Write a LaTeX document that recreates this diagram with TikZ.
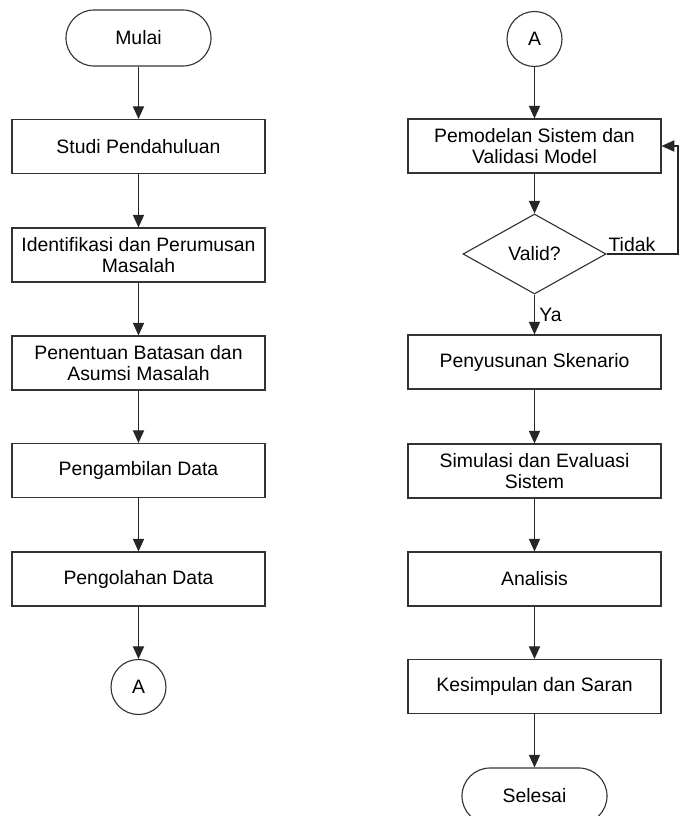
\documentclass[tikz,border=0pt]{standalone}
\usepackage{fontspec}
\setmainfont{Liberation Sans}
\usepackage{tikz}
\usetikzlibrary{arrows.meta,shapes.geometric}

\begin{document}
\begin{tikzpicture}[x=0.025cm,y=-0.025cm,
  font=\fontsize{13.8}{15.5}\selectfont,
  proses/.style={draw=black!80,line width=0.8pt,fill=white,minimum width=6.325cm,minimum height=1.35cm,align=center,inner sep=2pt},
  terminal/.style={draw=black!80,line width=0.8pt,fill=white,rounded corners=0.7cm,minimum width=3.625cm,minimum height=1.4cm},
  konektor/.style={draw=black!80,circle,line width=0.8pt,minimum size=1.375cm,inner sep=0pt},
  keputusan/.style={draw=black!80,diamond,aspect=1.79,line width=0.8pt,minimum width=3.575cm,minimum height=2cm,inner sep=0pt},
  panah/.style={-{Triangle[length=9pt,width=8pt]},line width=0.8pt,draw=black!85}]
\useasboundingbox (0,0) rectangle (680,816);
\clip (0,0) rectangle (680,816);
\node[terminal] (mulai) at (138.5,38) {Mulai};
\node[proses] (studi) at (138.5,146.5) {Studi Pendahuluan};
\node[proses] (identifikasi) at (138.5,255) {Identifikasi dan Perumusan\\Masalah};
\node[proses] (batasan) at (138.5,363) {Penentuan Batasan dan\\Asumsi Masalah};
\node[proses] (ambil) at (138.5,470.5) {Pengambilan Data};
\node[proses] (olah) at (138.5,579) {Pengolahan Data};
\node[konektor] (akiri) at (138.5,687) {A};
\node[konektor] (akanan) at (534.5,39) {A};
\node[proses] (model) at (534.5,146) {Pemodelan Sistem dan\\Validasi Model};
\node[keputusan] (valid) at (534.5,254) {Valid?};
\node[proses] (skenario) at (534.5,362) {Penyusunan Skenario};
\node[proses] (simulasi) at (534.5,471) {Simulasi dan Evaluasi\\Sistem};
\node[proses] (analisis) at (534.5,579) {Analisis};
\node[proses] (simpulan) at (534.5,686.5) {Kesimpulan dan Saran};
\node[terminal] (selesai) at (534.5,796) {Selesai};
\coordinate (balik) at (678,254);
\foreach \a/\b in {mulai/studi,studi/identifikasi,identifikasi/batasan,batasan/ambil,ambil/olah,olah/akiri,
  akanan/model,model/valid,skenario/simulasi,simulasi/analisis,analisis/simpulan,simpulan/selesai} {
  \draw[panah] (\a) -- (\b);
}
\draw[panah] (valid) -- node[right,inner sep=3pt] {Ya} (skenario);
\draw[panah] (valid.east) node[anchor=south west,inner sep=1pt] {Tidak} -- (balik) |- (model.east);
\end{tikzpicture}
\end{document}
